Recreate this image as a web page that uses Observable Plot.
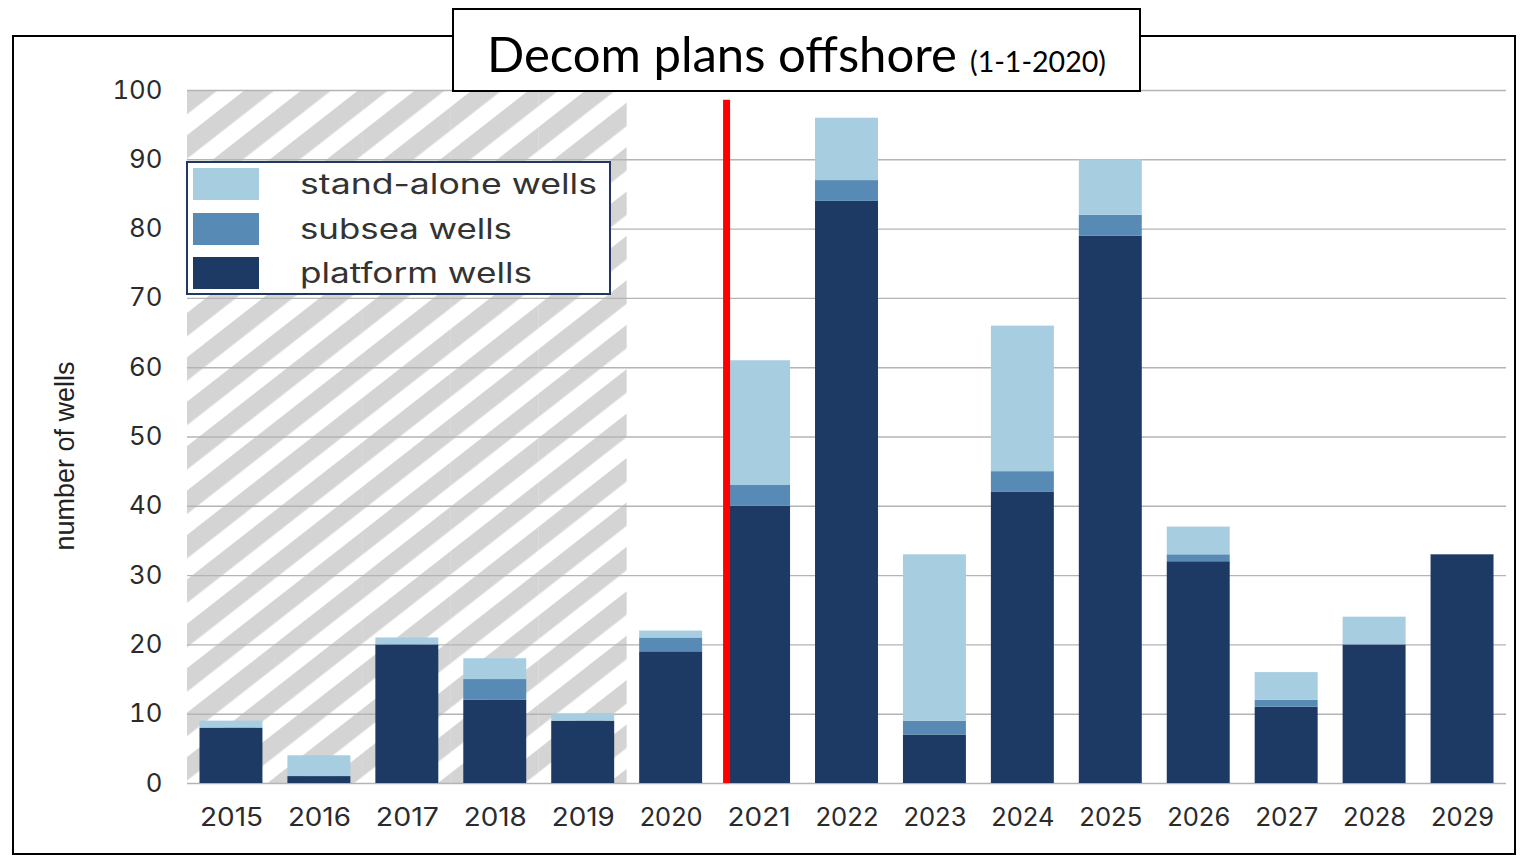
<!DOCTYPE html>
<html>
<head>
<meta charset="utf-8">
<script src="https://cdn.jsdelivr.net/npm/d3@7"></script>
<script src="https://cdn.jsdelivr.net/npm/@observablehq/plot@0.6"></script>
<style>
  html, body { margin: 0; padding: 0; background: #fff; }
  #wrap { position: relative; width: 1524px; height: 858px; overflow: hidden; }
  #chart { position: absolute; left: 0; top: 0; }
  #overlay { position: absolute; left: 0; top: 0; pointer-events: none; }
</style>
</head>
<body>
<div id="wrap">
  <div id="chart"></div>
  <svg id="overlay" width="1524" height="858"></svg>
</div>
<script>
// ---------------- data ----------------
const years = ["2015","2016","2017","2018","2019","2020","2021","2022","2023","2024","2025","2026","2027","2028","2029"];
const platformWells   = [8, 1, 20, 12, 9, 19, 40, 84, 7, 42, 79, 32, 11, 20, 33];
const subseaWells     = [0, 0,  0,  3, 0,  2,  3,  3, 2,  3,  3,  1,  1,  0,  0];
const standaloneWells = [1, 3,  1,  3, 1,  1, 18,  9, 24, 21,  8,  4,  4,  4,  0];
const seriesNames  = ["stand-alone wells", "subsea wells", "platform wells"];
const seriesColors = ["#a7cde0", "#578bb6", "#1d3a64"];
const stackOrder   = ["platform wells", "subsea wells", "stand-alone wells"];
const yTicks = [0, 10, 20, 30, 40, 50, 60, 70, 80, 90, 100];
const pastYears = ["2015","2016","2017","2018","2019"];
const cutoffYear = ["2021"];
const cutoffTop = 98.6;
const titleMain = "Decom plans offshore";
const titleDate = "(1-1-2020)";
const yLabel = "number of wells";

const rows = years.flatMap((yr, i) => [
  {year: yr, type: "platform wells", value: platformWells[i]},
  {year: yr, type: "subsea wells", value: subseaWells[i]},
  {year: yr, type: "stand-alone wells", value: standaloneWells[i]}
]);

// ---------------- chart ----------------
const chart = Plot.plot({
  width: 1524,
  height: 858,
  marginLeft: 187,
  marginRight: 18,
  marginTop: 90,
  marginBottom: 75,
  x: {domain: years, paddingInner: 0.284, paddingOuter: 0.142, align: 0.5, round: false},
  y: {domain: [0, 100]},
  color: {domain: seriesNames, range: seriesColors},
  style: {fontFamily: "Inter, sans-serif", fontSize: "25px", color: "#2b2b2b", background: "transparent", overflow: "visible"},
  marks: [
    Plot.barY(pastYears, {x: d => d, y1: 0, y2: 100, fill: "url(#hatch)", insetLeft: -12.5, insetRight: -12.5}),
    Plot.gridY(yTicks, {stroke: "#b4b4b4", strokeOpacity: 1, strokeWidth: 1.4}),
    Plot.barY(rows, {x: "year", y: "value", fill: "type", order: stackOrder}),
    Plot.ruleX(cutoffYear, {x: d => d, y1: 0, y2: cutoffTop, stroke: "#ff0000", strokeWidth: 7, dx: -32.5}),
    Plot.axisY(yTicks, {tickSize: 0, tickPadding: 25, label: null}),
    Plot.axisX({tickSize: 0, tickPadding: 25, label: null})
  ]
});

// widen tick labels to the wide geometric face of the original
d3.select(chart).selectAll('g[aria-label="x-axis tick label"] text')
  .attr("textLength", 63).attr("lengthAdjust", "spacingAndGlyphs");
d3.select(chart).selectAll('g[aria-label="y-axis tick label"] text')
  .each(function() {
    const n = this.textContent.length;
    d3.select(this).attr("textLength", 16.7 * n).attr("lengthAdjust", "spacingAndGlyphs");
  });

const defs = d3.select(chart).insert("defs", ":first-child");
const pat = defs.append("pattern")
  .attr("id", "hatch")
  .attr("patternUnits", "userSpaceOnUse")
  .attr("width", 35).attr("height", 35)
  .attr("patternTransform", "rotate(52) translate(11.7,0)");
pat.append("rect").attr("width", 35).attr("height", 35).attr("fill", "#ffffff");
pat.append("rect").attr("width", 18.5).attr("height", 35).attr("fill", "#d4d4d4");

document.getElementById("chart").appendChild(chart);

// ---------------- overlay: frame, title, legend, y label ----------------
const ov = d3.select("#overlay");
ov.append("rect").attr("x", 13).attr("y", 36).attr("width", 1502).attr("height", 818)
  .attr("fill", "none").attr("stroke", "#000").attr("stroke-width", 2);

ov.append("text")
  .attr("transform", "translate(74,456) rotate(-90)")
  .attr("text-anchor", "middle")
  .attr("font-family", "Liberation Sans, Arial, sans-serif")
  .attr("font-size", 27)
  .attr("fill", "#222")
  .text(yLabel);

// title box
ov.append("rect").attr("x", 453).attr("y", 9).attr("width", 687).attr("height", 82)
  .attr("fill", "#fff").attr("stroke", "#000").attr("stroke-width", 2);
ov.append("text").attr("x", 487).attr("y", 72)
  .attr("font-family", "Lato, sans-serif").attr("fill", "#000")
  .attr("font-size", 49).attr("textLength", 470).attr("lengthAdjust", "spacingAndGlyphs")
  .text(titleMain);
ov.append("text").attr("x", 970).attr("y", 72)
  .attr("font-family", "Lato, sans-serif").attr("fill", "#000")
  .attr("font-size", 28.5).attr("textLength", 136).attr("lengthAdjust", "spacingAndGlyphs")
  .text(titleDate);

// legend
ov.append("rect").attr("x", 187).attr("y", 162).attr("width", 423).attr("height", 132)
  .attr("fill", "#fff").attr("stroke", "#1f3864").attr("stroke-width", 2);
const legTop = [168, 213, 257];
const legWidth = [297, 212, 232];
seriesNames.forEach((name, i) => {
  ov.append("rect").attr("x", 193).attr("y", legTop[i]).attr("width", 66).attr("height", 32)
    .attr("fill", seriesColors[i]);
  ov.append("text").attr("x", 300).attr("y", legTop[i] + 26)
    .attr("font-family", "Inter, sans-serif").attr("font-size", 28).attr("fill", "#333")
    .attr("textLength", legWidth[i]).attr("lengthAdjust", "spacingAndGlyphs")
    .text(name);
});
</script>
</body>
</html>
